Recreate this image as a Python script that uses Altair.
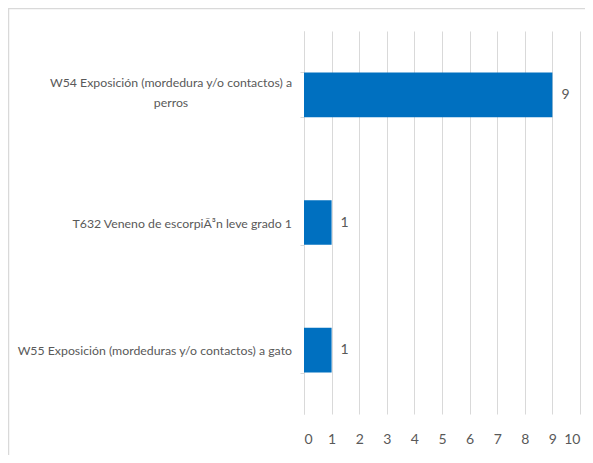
import altair as alt
import pandas as pd

categories = [
    "W54 Exposición (mordedura y/o contactos) a perros",
    "T632 Veneno de escorpiÃ³n leve grado 1",
    "W55 Exposición (mordeduras y/o contactos) a gato",
]
label_lines = [
    ["W54 Exposición (mordedura y/o contactos) a", "perros"],
    ["T632 Veneno de escorpiÃ³n leve grado 1"],
    ["W55 Exposición (mordeduras y/o contactos) a gato"],
]
values = [9, 1, 1]
x_ticks = list(range(0, 11))

df = pd.DataFrame({
    "cat": categories,
    "val": values,
    "lines": label_lines,
    "wrapped": [len(l) > 1 for l in label_lines],
})

FONT = "Lato"
GRAY = "#595959"
LIGHT = "#d9d9d9"

y_enc = alt.Y(
    "cat:N", sort=categories, title=None,
    scale=alt.Scale(paddingInner=0.65, paddingOuter=0.325),
    axis=alt.Axis(labels=False, tickBand="extent", tickSize=4, tickColor=LIGHT,
                  domainColor=LIGHT, grid=False),
)
x_enc = alt.X(
    "val:Q", title=None,
    scale=alt.Scale(domain=[0, 10], nice=False),
    axis=alt.Axis(values=x_ticks, ticks=False, domain=False, grid=True,
                  gridColor=LIGHT, labelFont=FONT, labelFontSize=14,
                  labelColor=GRAY, labelPadding=18, labelOverlap=False),
)

base = alt.Chart(df)

bars = base.mark_bar(color="#0070C0").encode(x=x_enc, y=y_enc)

values_text = base.mark_text(
    align="left", baseline="middle", dx=9, font=FONT, fontSize=14, color=GRAY
).encode(x=x_enc, y=y_enc, text="val:Q")

labels_single = base.transform_filter("!datum.wrapped").mark_text(
    align="right", baseline="middle", font=FONT, fontSize=12.3, color=GRAY, dy=1
).encode(x=alt.value(-12), y=y_enc, text="lines")

labels_wrapped = base.transform_filter("datum.wrapped").mark_text(
    align="center", baseline="middle", font=FONT, fontSize=12.3, color=GRAY,
    lineHeight=20, dy=-12,
).encode(x=alt.value(-133), y=y_enc, text="lines")

frame = alt.Chart(pd.DataFrame({"a": [0]})).mark_rect(
    fill=None, stroke=LIGHT, strokeWidth=1.5
).encode(
    x=alt.value(-295.5), x2=alt.value(400), y=alt.value(-22.5), y2=alt.value(500)
)

chart = alt.layer(frame, bars, values_text, labels_single, labels_wrapped).properties(
    width=276, height=383,
    autosize=alt.AutoSizeParams(type="none"),
    padding={"left": 296, "top": 23, "right": 5, "bottom": 41},
    background="white",
).configure_view(stroke=None)

chart.save("out.html", embed_options={"renderer": "svg", "actions": False})
